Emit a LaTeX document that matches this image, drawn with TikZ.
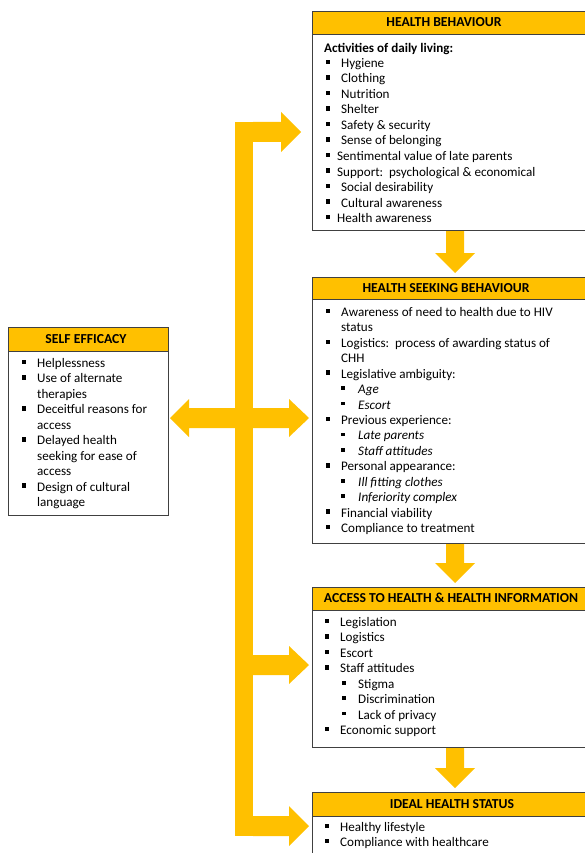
\documentclass[tikz,border=0pt]{standalone}
\usepackage{fontspec}
\setmainfont{Carlito}
\definecolor{gold}{HTML}{FFC000}
\definecolor{edge}{HTML}{404040}
\newcommand\Bul[2]{\fill (#1-2.3,#2-3.3) rectangle ++(4.6,4.6);}
\newcommand\Sub[2]{\fill (#1-1.8,#2-2.8) rectangle ++(3.6,3.6);}
\newcommand\Ln[4]{\node[txt] (#1) at (#2,#3+4.5) {#4};}
\newcommand\Hd[4]{\node[hd] (#1) at (#2,#3) {#4};}
\newcommand\Bx[6]{%
  \node[boxframe, minimum width=#4-#2, minimum height=#6-#3] (#1) at (#2,#3) {};
  \node[boxhead, minimum width=#4-#2, minimum height=#5-#3] (#1h) at (#1.north west) {};}
\begin{document}
\begin{tikzpicture}[x=1pt,y=-1pt,
  txt/.style={anchor=base west, inner sep=0pt, font=\fontsize{13.1}{15}\selectfont},
  hd/.style={anchor=center, inner sep=0pt, font=\fontsize{13.7}{15}\selectfont\bfseries},
  boxframe/.style={draw=edge, line width=0.8pt, anchor=north west, inner sep=0pt, outer sep=0pt},
  boxhead/.style={draw=edge, fill=gold, line width=0.8pt, anchor=north west, inner sep=0pt, outer sep=0pt},
  arr/.style={fill=gold}]
\useasboundingbox (0,0) rectangle (585,853);
% ---- block arrows
\fill[arr] (235,122) rectangle (253,836);
\fill[arr] (253,122) -- (281,122) -- (281,112) -- (301,132) -- (281,152) -- (281,142) -- (253,142) -- cycle;
\fill[arr] (253,655) -- (289,655) -- (289,646) -- (309,665) -- (289,684) -- (289,675) -- (253,675) -- cycle;
\fill[arr] (253,816) -- (289,816) -- (289,806) -- (309,826) -- (289,846) -- (289,836) -- (253,836) -- cycle;
\fill[arr] (170,418) -- (189,399) -- (189,408) -- (289,408) -- (289,399) -- (309,418) -- (289,437) -- (289,428) -- (189,428) -- (189,437) -- cycle;
\fill[arr] (446,230) -- (464,230) -- (464,253) -- (475,253) -- (455,273) -- (435,253) -- (446,253) -- cycle;
\fill[arr] (446,543) -- (464,543) -- (464,563) -- (475,563) -- (455,583) -- (435,563) -- (446,563) -- cycle;
\fill[arr] (446,747) -- (464,747) -- (464,768) -- (475,768) -- (455,788) -- (435,768) -- (446,768) -- cycle;
% ---- boxes
\Bx{hb}{312}{11}{592}{34}{230}
\Bx{hsb}{312}{277}{592}{299}{543}
\Bx{se}{8}{327}{168}{351}{515}
\Bx{acc}{312}{587}{592}{610}{747}
\Bx{ih}{312}{792}{592}{816}{870}
% ---- headers
\Hd{hbt}{444}{22.5}{HEALTH BEHAVIOUR}
\Hd{hsbt}{446}{288}{HEALTH SEEKING BEHAVIOUR}
\Hd{set}{86}{339}{SELF EFFICACY}
\Hd{acct}{451}{598}{ACCESS TO HEALTH \& HEALTH INFORMATION}
\Hd{iht}{452}{804}{IDEAL HEALTH STATUS}
% ---- health behaviour
\Ln{hb0}{324}{48}{\bfseries Activities of daily living:}
\Bul{328}{63}\Ln{hb1}{341}{63}{Hygiene}
\Bul{328}{78.5}\Ln{hb2}{341}{78.5}{Clothing}
\Bul{328}{94}\Ln{hb3}{341}{94}{Nutrition}
\Bul{328}{109.5}\Ln{hb4}{341}{109.5}{Shelter}
\Bul{328}{125}\Ln{hb5}{341}{125}{Safety \& security}
\Bul{328}{140.5}\Ln{hb6}{341}{140.5}{Sense of belonging}
\Bul{328}{156}\Ln{hb7}{337}{156}{Sentimental value of late parents}
\Bul{328}{171.5}\Ln{hb8}{337}{171.5}{Support:\ \ psychological \& economical}
\Bul{328}{187}\Ln{hb9}{341}{187}{Social desirability}
\Bul{328}{202.5}\Ln{hb10}{341}{202.5}{Cultural awareness}
\Bul{328}{218}\Ln{hb11}{337}{218}{Health awareness}
% ---- health seeking behaviour
\Bul{328}{312}\Ln{hs1}{341}{312}{Awareness of need to health due to HIV}
\Ln{hs2}{341}{327.4}{status}
\Bul{328}{342.9}\Ln{hs3}{341}{342.9}{Logistics:\ \ process of awarding status of}
\Ln{hs4}{341}{358.3}{CHH}
\Bul{328}{373.7}\Ln{hs5}{341}{373.7}{Legislative ambiguity:}
\Sub{343}{389.2}\Ln{hs6}{358}{389.2}{\itshape Age}
\Sub{343}{404.6}\Ln{hs7}{358}{404.6}{\itshape Escort}
\Bul{328}{420}\Ln{hs8}{341}{420}{Previous experience:}
\Sub{343}{435.4}\Ln{hs9}{358}{435.4}{\itshape Late parents}
\Sub{343}{451}\Ln{hs10}{358}{451}{\itshape Staff attitudes}
\Bul{328}{466.3}\Ln{hs11}{341}{466.3}{Personal appearance:}
\Sub{343}{481.7}\Ln{hs12}{358}{481.7}{\itshape Ill fitting clothes}
\Sub{343}{497.2}\Ln{hs13}{358}{497.2}{\itshape Inferiority complex}
\Bul{328}{512.6}\Ln{hs14}{341}{512.6}{Financial viability}
\Bul{328}{528}\Ln{hs15}{341}{528}{Compliance to treatment}
% ---- self efficacy
\Bul{24}{363}\Ln{se1}{37}{363}{Helplessness}
\Bul{24}{378.4}\Ln{se2}{37}{378.4}{Use of alternate}
\Ln{se3}{37}{393.9}{therapies}
\Bul{24}{409.3}\Ln{se4}{37}{409.3}{Deceitful reasons for}
\Ln{se5}{37}{424.8}{access}
\Bul{24}{440.2}\Ln{se6}{37}{440.2}{Delayed health}
\Ln{se7}{37}{455.6}{seeking for ease of}
\Ln{se8}{37}{471.1}{access}
\Bul{24}{486.5}\Ln{se9}{37}{486.5}{Design of cultural}
\Ln{se10}{37}{502}{language}
% ---- access
\Bul{327}{622}\Ln{ac1}{340}{622}{Legislation}
\Bul{327}{637.4}\Ln{ac2}{340}{637.4}{Logistics}
\Bul{327}{652.9}\Ln{ac3}{340}{652.9}{Escort}
\Bul{327}{668.3}\Ln{ac4}{340}{668.3}{Staff attitudes}
\Sub{344}{683.7}\Ln{ac5}{358}{683.7}{Stigma}
\Sub{344}{699.2}\Ln{ac6}{358}{699.2}{Discrimination}
\Sub{344}{714.6}\Ln{ac7}{358}{714.6}{Lack of privacy}
\Bul{327}{730}\Ln{ac8}{340}{730}{Economic support}
% ---- ideal
\Bul{327}{827}\Ln{ih1}{340}{827}{Healthy lifestyle}
\Bul{327}{842}\Ln{ih2}{340}{842}{Compliance with healthcare}
\end{tikzpicture}
\end{document}
